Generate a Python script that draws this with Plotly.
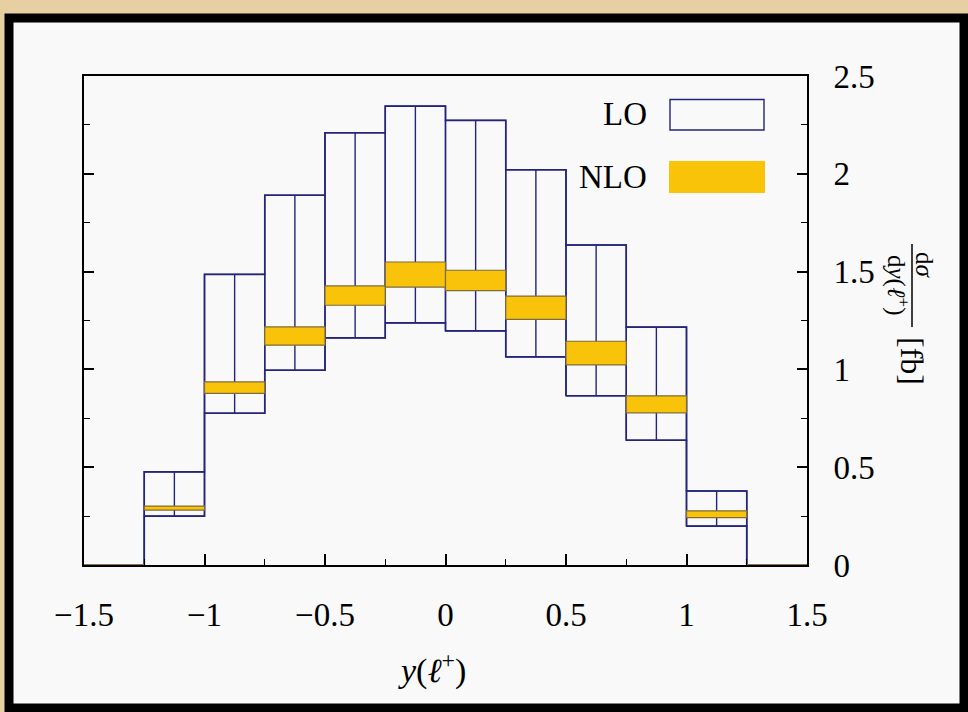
import plotly.graph_objects as go

# ---------------- data ----------------
bin_edges = [-1.5, -1.25, -1.0, -0.75, -0.5, -0.25, 0.0, 0.25, 0.5, 0.75, 1.0, 1.25, 1.5]
lo_lower = [0, 0.250, 0.776, 0.996, 1.161, 1.238, 1.197, 1.064, 0.865, 0.638, 0.199, 0]
lo_upper = [0, 0.476, 1.486, 1.890, 2.210, 2.346, 2.273, 2.021, 1.636, 1.216, 0.378, 0]
nlo_lower = [0, 0.281, 0.877, 1.124, 1.328, 1.421, 1.403, 1.256, 1.023, 0.778, 0.242, 0]
nlo_upper = [0, 0.301, 0.936, 1.217, 1.427, 1.549, 1.507, 1.375, 1.144, 0.865, 0.277, 0]
x_ticks = [-1.5, -1.0, -0.5, 0.0, 0.5, 1.0, 1.5]
y_ticks = [0, 0.5, 1, 1.5, 2, 2.5]
legend_labels = ["LO", "NLO"]

# ---------------- styles ----------------
W, H = 968, 712
ML, MR, MT, MB = 84, 161, 76, 147
PW, PH = W - ML - MR, H - MT - MB
LO_COL = "#24247a"
NLO_FILL = "#f8c308"
NLO_LINE = "#7f6c3c"
FONT = "Liberation Serif"


def px(x):
    return (x - ML) / PW


def py(y):
    return (H - MB - y) / PH


fig = go.Figure()

# LO boxes (rectangle + centre line for each bin)
xs, ys = [], []
for i in range(len(lo_lower)):
    a, b = bin_edges[i], bin_edges[i + 1]
    c = 0.5 * (a + b)
    lo, hi = lo_lower[i], lo_upper[i]
    xs += [a, b, b, a, a, None, c, c, None]
    ys += [lo, lo, hi, hi, lo, None, lo, hi, None]
fig.add_trace(go.Scatter(x=xs, y=ys, mode="lines", line=dict(color=LO_COL, width=1.4),
                         hoverinfo="skip", showlegend=False))

# LO step outlines
for vals in (lo_upper, lo_lower):
    sx, sy = [], []
    for i, v in enumerate(vals):
        sx += [bin_edges[i], bin_edges[i + 1]]
        sy += [v, v]
    fig.add_trace(go.Scatter(x=sx, y=sy, mode="lines", line=dict(color=LO_COL, width=1.6),
                             hoverinfo="skip", showlegend=False))

# NLO bands
for i in range(len(nlo_lower)):
    a, b = bin_edges[i], bin_edges[i + 1]
    lo, hi = nlo_lower[i], nlo_upper[i]
    fig.add_trace(go.Scatter(x=[a, b, b, a, a], y=[lo, lo, hi, hi, lo], mode="lines",
                             fill="toself", fillcolor=NLO_FILL,
                             line=dict(color=NLO_LINE if hi > 0 else NLO_FILL, width=1.2),
                             hoverinfo="skip", showlegend=False))

shapes = []
# outer frame + inner panel
shapes.append(dict(type="rect", xref="paper", yref="paper", layer="below",
                   x0=px(9), x1=px(964), y0=py(708), y1=py(18),
                   fillcolor="#f9f9f9", line=dict(color="black", width=9)))
# legend boxes
shapes.append(dict(type="rect", xref="paper", yref="paper",
                   x0=px(670), x1=px(764), y0=py(130), y1=py(99.5),
                   fillcolor="#f9f9f9", line=dict(color=LO_COL, width=1.4)))
shapes.append(dict(type="rect", xref="paper", yref="paper",
                   x0=px(669), x1=px(765), y0=py(193), y1=py(161),
                   fillcolor=NLO_FILL, line=dict(width=0)))
# y-title fraction bar
shapes.append(dict(type="line", xref="paper", yref="paper",
                   x0=px(912), x1=px(912), y0=py(327), y1=py(244),
                   line=dict(color="black", width=1.5)))

annotations = [
    dict(text=legend_labels[0], x=px(649), y=py(114), xanchor="right", yanchor="middle"),
    dict(text=legend_labels[1], x=px(649), y=py(177), xanchor="right", yanchor="middle"),
    dict(text="<i>y</i>(<i>ℓ</i><sup>+</sup>)", x=px(432), y=py(668), xanchor="center", yanchor="middle",
         font=dict(size=34)),
    dict(text="d<i>σ</i>", x=px(925), y=py(265), textangle=90, xanchor="center", yanchor="middle",
         font=dict(size=25)),
    dict(text="d<i>y</i>(<i>ℓ</i><sup>+</sup>)", x=px(898), y=py(285), textangle=90,
         xanchor="center", yanchor="middle", font=dict(size=25)),
    dict(text="[fb]", x=px(912), y=py(361), textangle=90, xanchor="center", yanchor="middle",
         font=dict(size=32)),
]
for an in annotations:
    an.setdefault("xref", "paper")
    an.setdefault("yref", "paper")
    an.setdefault("showarrow", False)
    f = an.get("font", {})
    an["font"] = dict(family=FONT, size=f.get("size", 33), color="black")

fig.update_layout(
    width=W, height=H,
    margin=dict(l=ML, r=MR, t=MT, b=MB, pad=0),
    paper_bgcolor="#e6cfa0",
    plot_bgcolor="rgba(0,0,0,0)",
    font=dict(family=FONT, size=33, color="black"),
    shapes=shapes,
    annotations=annotations,
    showlegend=False,
)
fig.update_xaxes(range=[-1.5, 1.5], tickvals=x_ticks, ticks="inside", ticklen=11, tickwidth=1.5,
                 tickcolor="black", showline=True, linecolor="black", linewidth=2, mirror=True,
                 showgrid=False, zeroline=False, ticklabelstandoff=19,
                 minor=dict(dtick=0.25, ticks="inside", ticklen=6, tickcolor="black", tickwidth=1.2,
                            showgrid=False),
                 tickfont=dict(family=FONT, size=33))
fig.update_yaxes(range=[0, 2.5], tickvals=y_ticks, side="right", ticks="inside", ticklen=10,
                 tickwidth=1.5, tickcolor="black", showline=True, linecolor="black", linewidth=2,
                 mirror="ticks", showgrid=False, zeroline=False, ticklabelstandoff=18,
                 minor=dict(dtick=0.25, ticks="inside", ticklen=6, tickcolor="black", tickwidth=1.2,
                            showgrid=False),
                 tickfont=dict(family=FONT, size=33))

fig.write_html("out.html")
